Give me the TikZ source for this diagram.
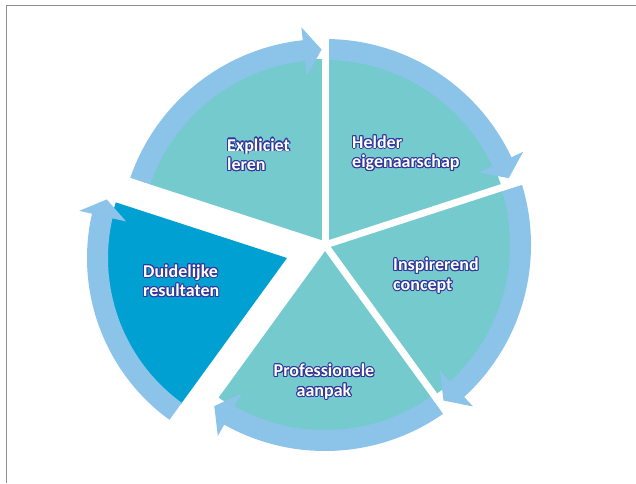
\documentclass[tikz,border=0pt]{standalone}
\usepackage{fontspec}
\setmainfont{Carlito}
\definecolor{secteal}{HTML}{74CACC}
\definecolor{bandcol}{HTML}{8BC3E9}
\definecolor{dblue}{HTML}{00A0D3}
\definecolor{outl}{HTML}{30379A}
\definecolor{framecol}{HTML}{8E8E8E}
\newcommand\arrowband[7]{%
  \fill[bandcol] (#1:#4) arc[start angle=#1, end angle={#2+5.2}, radius=#4]
    -- ({#2+5.2}:#6) -- (#2:#7) -- ({#2+5.2}:#5) -- ({#2+5.2}:#3)
    arc[start angle={#2+5.2}, end angle=#1, radius=#3] -- cycle;}
\newcommand\olab[5]{%
  \foreach \k in {0,30,...,330}{%
    \path (#2) ++(\k:1.0) node[lab, text=outl, align=#3, anchor=#4] (#1-\k) {#5};}
  \node[lab, text=white, align=#3, anchor=#4] (#1) at (#2) {#5};}
\begin{document}
\begin{tikzpicture}[x=1pt,y=1pt,
  lab/.style={font=\bfseries\fontsize{18}{19.5}\selectfont, inner sep=0pt}]
\useasboundingbox (0,0) rectangle (636,483);
\draw[framecol, line width=1.8] (6.5,0) -- (6.5,477.5) -- (636,477.5);
\coordinate (C) at (325,238);
\coordinate (C2) at (287,225);
\begin{scope}[shift={(C)}]
  \fill[secteal] (0,0) -- (-126:186) arc[start angle=-126, end angle=162, radius=186] -- cycle;
  \arrowband{161}{91}{185}{206}{170}{219}{195.5}
  \arrowband{89}{20}{185}{206}{170}{219}{195.5}
  \arrowband{17}{-52.7}{185}{206}{170}{219}{195.5}
  \arrowband{-55}{-124.5}{185}{206}{170}{219}{195.5}
  \foreach \g in {90,18,-54,-126,162} \draw[white, line width=7] (0,0) -- (\g:235);
\end{scope}
\begin{scope}[shift={(C2)}]
  \fill[dblue] (0,0) -- (162:180) arc[start angle=162, end angle=234, radius=180] -- cycle;
  \arrowband{234}{162}{179}{200}{165}{213}{189.5}
\end{scope}
\olab{expl}{227,328.5}{left}{west}{Expliciet\\leren}
\olab{held}{352,330}{left}{west}{Helder\\eigenaarschap}
\olab{insp}{393,207.5}{left}{west}{Inspirerend\\concept}
\olab{prof}{324,101.5}{center}{center}{Professionele\\aanpak}
\olab{duid}{143,202.5}{left}{west}{Duidelijke\\resultaten}
\end{tikzpicture}
\end{document}
